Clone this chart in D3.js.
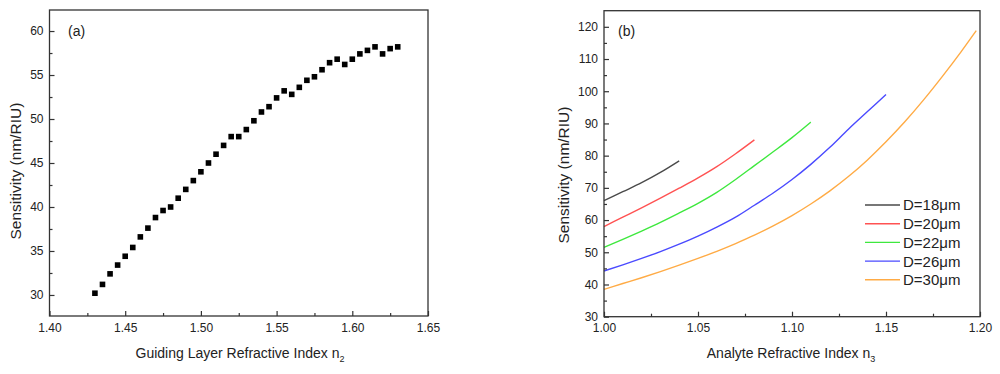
<!DOCTYPE html>
<html>
<head>
<meta charset="utf-8">
<script src="https://cdn.jsdelivr.net/npm/d3@7"></script>
<style>
body { margin: 0; background: #fff; }
text { font-family: Arial, 'Liberation Sans', sans-serif; fill: #222; }
</style>
</head>
<body>
<svg id="chart" width="1000" height="374"></svg>
<script>
// (a) guiding layer index vs sensitivity
var guideIndex = [1.430, 1.435, 1.440, 1.445, 1.450, 1.455, 1.460, 1.465, 1.470, 1.475,
  1.480, 1.485, 1.490, 1.495, 1.500, 1.505, 1.510, 1.515, 1.520, 1.525,
  1.530, 1.535, 1.540, 1.545, 1.550, 1.555, 1.560, 1.565, 1.570, 1.575,
  1.580, 1.585, 1.590, 1.595, 1.600, 1.605, 1.610, 1.615, 1.620, 1.625, 1.630]
var sensA = [30.2, 31.2, 32.4, 33.4, 34.4, 35.4, 36.6, 37.6, 38.8, 39.6,
  40.0, 41.0, 42.0, 43.0, 44.0, 45.0, 46.0, 47.0, 48.0, 48.0,
  48.8, 49.8, 50.8, 51.4, 52.4, 53.2, 52.8, 53.6, 54.4, 54.8,
  55.6, 56.4, 56.8, 56.2, 56.8, 57.4, 57.8, 58.2, 57.4, 58.0, 58.2]
var ticksAX = [1.40, 1.45, 1.50, 1.55, 1.60, 1.65]
var ticksAY = [30, 35, 40, 45, 50, 55, 60]

// (b) analyte index vs sensitivity, one array per diameter
var analyteIndex = [1.00, 1.01, 1.02, 1.03, 1.04, 1.05, 1.06, 1.07, 1.08, 1.09,
  1.10, 1.11, 1.12, 1.13, 1.14, 1.15, 1.16, 1.17, 1.18, 1.19, 1.198]
var d18 = [66.0, 68.8, 71.6, 74.8, 78.4]
var d20 = [58.0, 60.9, 63.8, 66.8, 69.9, 73.1, 76.6, 80.6, 84.9]
var d22 = [51.5, 54.0, 56.6, 59.3, 62.2, 65.2, 68.6, 72.6, 76.9, 81.2, 85.6, 90.4]
var d26 = [44.2, 46.1, 48.1, 50.2, 52.5, 55.0, 57.8, 60.9, 64.6, 68.4, 72.6, 77.3, 82.5, 88.2, 93.6, 99.0]
var d30 = [38.5, 40.3, 42.1, 44.0, 46.0, 48.1, 50.3, 52.7, 55.3, 58.2, 61.4, 65.0, 69.0, 73.5, 78.6, 84.3, 90.5, 97.3, 104.6, 112.3, 118.8]
var seriesNames = ['D=18\u03bcm', 'D=20\u03bcm', 'D=22\u03bcm', 'D=26\u03bcm', 'D=30\u03bcm']
var seriesColors = ['#4a4a4a', '#ff5252', '#3ee83e', '#4a4aff', '#ffab45']
var ticksBX = [1.00, 1.05, 1.10, 1.15, 1.20]
var ticksBY = [30, 40, 50, 60, 70, 80, 90, 100, 110, 120]

var svg = d3.select('#chart')

// frame + inward ticks
function frame(g, x, y, majX, minX, majY, minY, fmtX, fmtY) {
  var r = x.range(), t = y.range()
  g.append('g')
    .attr('transform', 'translate(0,' + t[0] + ')')
    .call(d3.axisBottom(x).tickValues(minX).tickSize(-3).tickFormat(''))
  g.append('g')
    .attr('transform', 'translate(0,' + t[0] + ')')
    .call(d3.axisBottom(x).tickValues(majX).tickSize(-5).tickPadding(7).tickFormat(d3.format(fmtX)))
  g.append('g')
    .attr('transform', 'translate(' + r[0] + ',0)')
    .call(d3.axisLeft(y).tickValues(minY).tickSize(-3).tickFormat(''))
  g.append('g')
    .attr('transform', 'translate(' + r[0] + ',0)')
    .call(d3.axisLeft(y).tickValues(majY).tickSize(-5).tickPadding(6).tickFormat(d3.format(fmtY)))
  g.selectAll('.domain').remove()
  g.selectAll('.tick line').attr('stroke', '#333').attr('stroke-width', 1.2)
  g.selectAll('.tick text').attr('font-size', 12).attr('font-family', 'Arial, Liberation Sans, sans-serif').attr('fill', '#222')
  g.append('rect')
    .attr('x', r[0]).attr('y', t[1])
    .attr('width', r[1] - r[0]).attr('height', t[0] - t[1])
    .attr('fill', 'none')
    .attr('stroke', '#333')
    .attr('stroke-width', 1.3)
}

function titles(g, cx, xt, sub, yx, yy) {
  var tx = g.append('text')
    .attr('x', cx).attr('y', 358)
    .attr('text-anchor', 'middle')
    .attr('font-size', 14)
    .text(xt)
  tx.append('tspan').attr('font-size', 9).attr('dy', 4).text(sub)
  g.append('text')
    .attr('transform', 'translate(' + yx + ',' + yy + ') rotate(-90)')
    .attr('text-anchor', 'middle')
    .attr('font-size', 15.5)
    .text('Sensitivity (nm/RIU)')
}

// ---- panel (a)
var xa = d3.scaleLinear().domain([1.40, 1.65]).range([49.5, 428])
var ya = d3.scaleLinear().domain([27.61, 62.39]).range([316, 10])
var ga = svg.append('g')

ga.selectAll('.pt')
  .data(d3.zip(guideIndex, sensA))
  .enter()
  .append('rect')
  .attr('class', 'pt')
  .attr('x', function(d) { return xa(d[0]) - 2.8 })
  .attr('y', function(d) { return ya(d[1]) - 2.8 })
  .attr('width', 5.6)
  .attr('height', 5.6)
  .attr('fill', '#000')

frame(ga, xa, ya, ticksAX,
  [1.425, 1.475, 1.525, 1.575, 1.625],
  ticksAY, [32.5, 37.5, 42.5, 47.5, 52.5, 57.5], '.2f', 'd')
titles(ga, 240, 'Guiding Layer Refractive Index n', '2', 21, 171)
ga.append('text').attr('x', 68).attr('y', 36).attr('font-size', 14).text('(a)')

// ---- panel (b)
var xb = d3.scaleLinear().domain([1.00, 1.20]).range([604, 980])
var yb = d3.scaleLinear().domain([30, 125]).range([316.7, 10.7])
var gb = svg.append('g')

var series = [d18, d20, d22, d26, d30].map(function(v, i) {
  return { name: seriesNames[i], color: seriesColors[i], pts: d3.zip(analyteIndex.slice(0, v.length), v) }
})

var line = d3.line()
  .x(function(d) { return xb(d[0]) })
  .y(function(d) { return yb(d[1]) })
  .curve(d3.curveMonotoneX)

gb.selectAll('.ln')
  .data(series)
  .enter()
  .append('path')
  .attr('class', 'ln')
  .attr('d', function(d) { return line(d.pts) })
  .attr('fill', 'none')
  .attr('stroke', function(d) { return d.color })
  .attr('stroke-width', 1.4)

frame(gb, xb, yb, ticksBX,
  [1.025, 1.075, 1.125, 1.175],
  ticksBY, [35, 45, 55, 65, 75, 85, 95, 105, 115], '.2f', 'd')
titles(gb, 791, 'Analyte Refractive Index n', '3', 569, 175)
gb.append('text').attr('x', 618).attr('y', 36).attr('font-size', 14).text('(b)')

// legend
var leg = gb.selectAll('.leg')
  .data(series)
  .enter()
  .append('g')
  .attr('class', 'leg')
  .attr('transform', function(d, i) { return 'translate(865,' + (205 + i * 18.7) + ')' })
leg.append('line')
  .attr('x1', 0).attr('x2', 35)
  .attr('stroke', function(d) { return d.color })
  .attr('stroke-width', 1.4)
leg.append('text')
  .attr('x', 38).attr('dy', '0.36em')
  .attr('font-size', 15)
  .text(function(d) { return d.name })
</script>
</body>
</html>
